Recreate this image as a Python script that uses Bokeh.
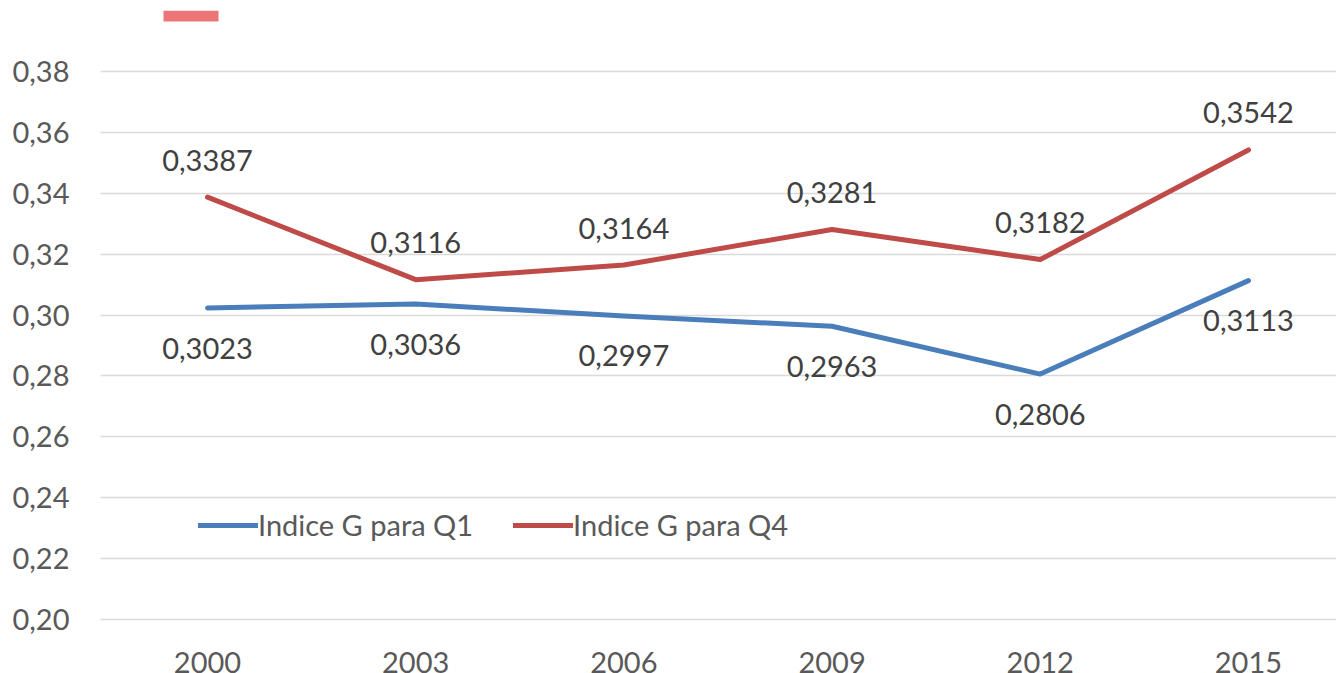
from bokeh.plotting import figure
from bokeh.models import Range1d, FixedTicker, Legend, LegendItem, ColumnDataSource, BoxAnnotation, LabelSet
from bokeh.embed import file_html
from bokeh.resources import INLINE
from bokeh.core.properties import value

years = ["2000", "2003", "2006", "2009", "2012", "2015"]
q1 = [0.3023, 0.3036, 0.2997, 0.2963, 0.2806, 0.3113]
q4 = [0.3387, 0.3116, 0.3164, 0.3281, 0.3182, 0.3542]
y_ticks = [0.20, 0.22, 0.24, 0.26, 0.28, 0.30, 0.32, 0.34, 0.36, 0.38]
y_tick_labels = ["0,20", "0,22", "0,24", "0,26", "0,28", "0,30", "0,32", "0,34", "0,36", "0,38"]
series_names = ["Indice G para Q1", "Indice G para Q4"]

BLUE = "#4A7EBB"
RED = "#BE4B48"
FONT = "Lato"

xs = list(range(len(years)))

p = figure(width=1336, height=673, output_backend="svg", toolbar_location=None,
           x_range=Range1d(-0.514, 5.423), y_range=Range1d(0.18227, 0.40),
           min_border_left=100, min_border_right=0, min_border_top=10, min_border_bottom=0)
p.outline_line_color = None
p.background_fill_color = "white"
p.border_fill_color = "white"

# axes
p.xaxis.visible = False
p.yaxis.ticker = FixedTicker(ticks=y_ticks)
p.yaxis.major_label_overrides = {t: l for t, l in zip(y_ticks, y_tick_labels)}
ax = p.yaxis[0]
ax.axis_line_color = None
ax.major_tick_line_color = None
ax.minor_tick_line_color = None
ax.major_tick_out = 0
ax.major_tick_in = 0
ax.major_label_text_font = FONT
ax.major_label_text_font_size = "29px"
ax.major_label_text_color = "#595959"
ax.major_label_standoff = 31
p.xgrid.grid_line_color = None
p.ygrid.grid_line_color = "#D9D9D9"
p.ygrid.grid_line_width = 1.5

src = ColumnDataSource(dict(x=xs, q1=q1, q4=q4, year=years,
                            q1_lab=[f"{v:.4f}".replace(".", ",") for v in q1],
                            q4_lab=[f"{v:.4f}".replace(".", ",") for v in q4]))

r1 = p.line("x", "q1", source=src, line_color=BLUE, line_width=5, line_cap="round", line_join="round")
r4 = p.line("x", "q4", source=src, line_color=RED, line_width=5, line_cap="round", line_join="round")

p.text("x", "q4", text="q4_lab", source=src, text_font=value(FONT), text_font_size="29px",
       text_color="#404040", text_align="center", text_baseline="middle", y_offset=-37)
p.text("x", "q1", text="q1_lab", source=src, text_font=value(FONT), text_font_size="29px",
       text_color="#404040", text_align="center", text_baseline="middle", y_offset=40)

# category (year) labels under the 0,20 gridline
year_labels = LabelSet(x="x", y=1, y_units="screen", text="year", source=src,
                       text_font=value(FONT), text_font_size=value("29px"), text_color="#595959",
                       text_align="center", text_baseline="bottom")
p.add_layout(year_labels)

legend = Legend(items=[LegendItem(label=series_names[0], renderers=[r1]),
                       LegendItem(label=series_names[1], renderers=[r4])],
                orientation="horizontal", location=(98, 131),
                label_text_font=FONT, label_text_font_size="29px", label_text_color="#595959",
                glyph_width=60, glyph_height=30, label_standoff=0, spacing=40,
                padding=0, margin=0, border_line_color=None, background_fill_alpha=0)
p.add_layout(legend, "center")

box = BoxAnnotation(left=63, right=118, top=663, bottom=652,
                    left_units="screen", right_units="screen", top_units="screen", bottom_units="screen",
                    fill_color="#EC7677", fill_alpha=1, line_color=None)
p.add_layout(box)

open("out.html", "w").write(file_html(p, INLINE))
